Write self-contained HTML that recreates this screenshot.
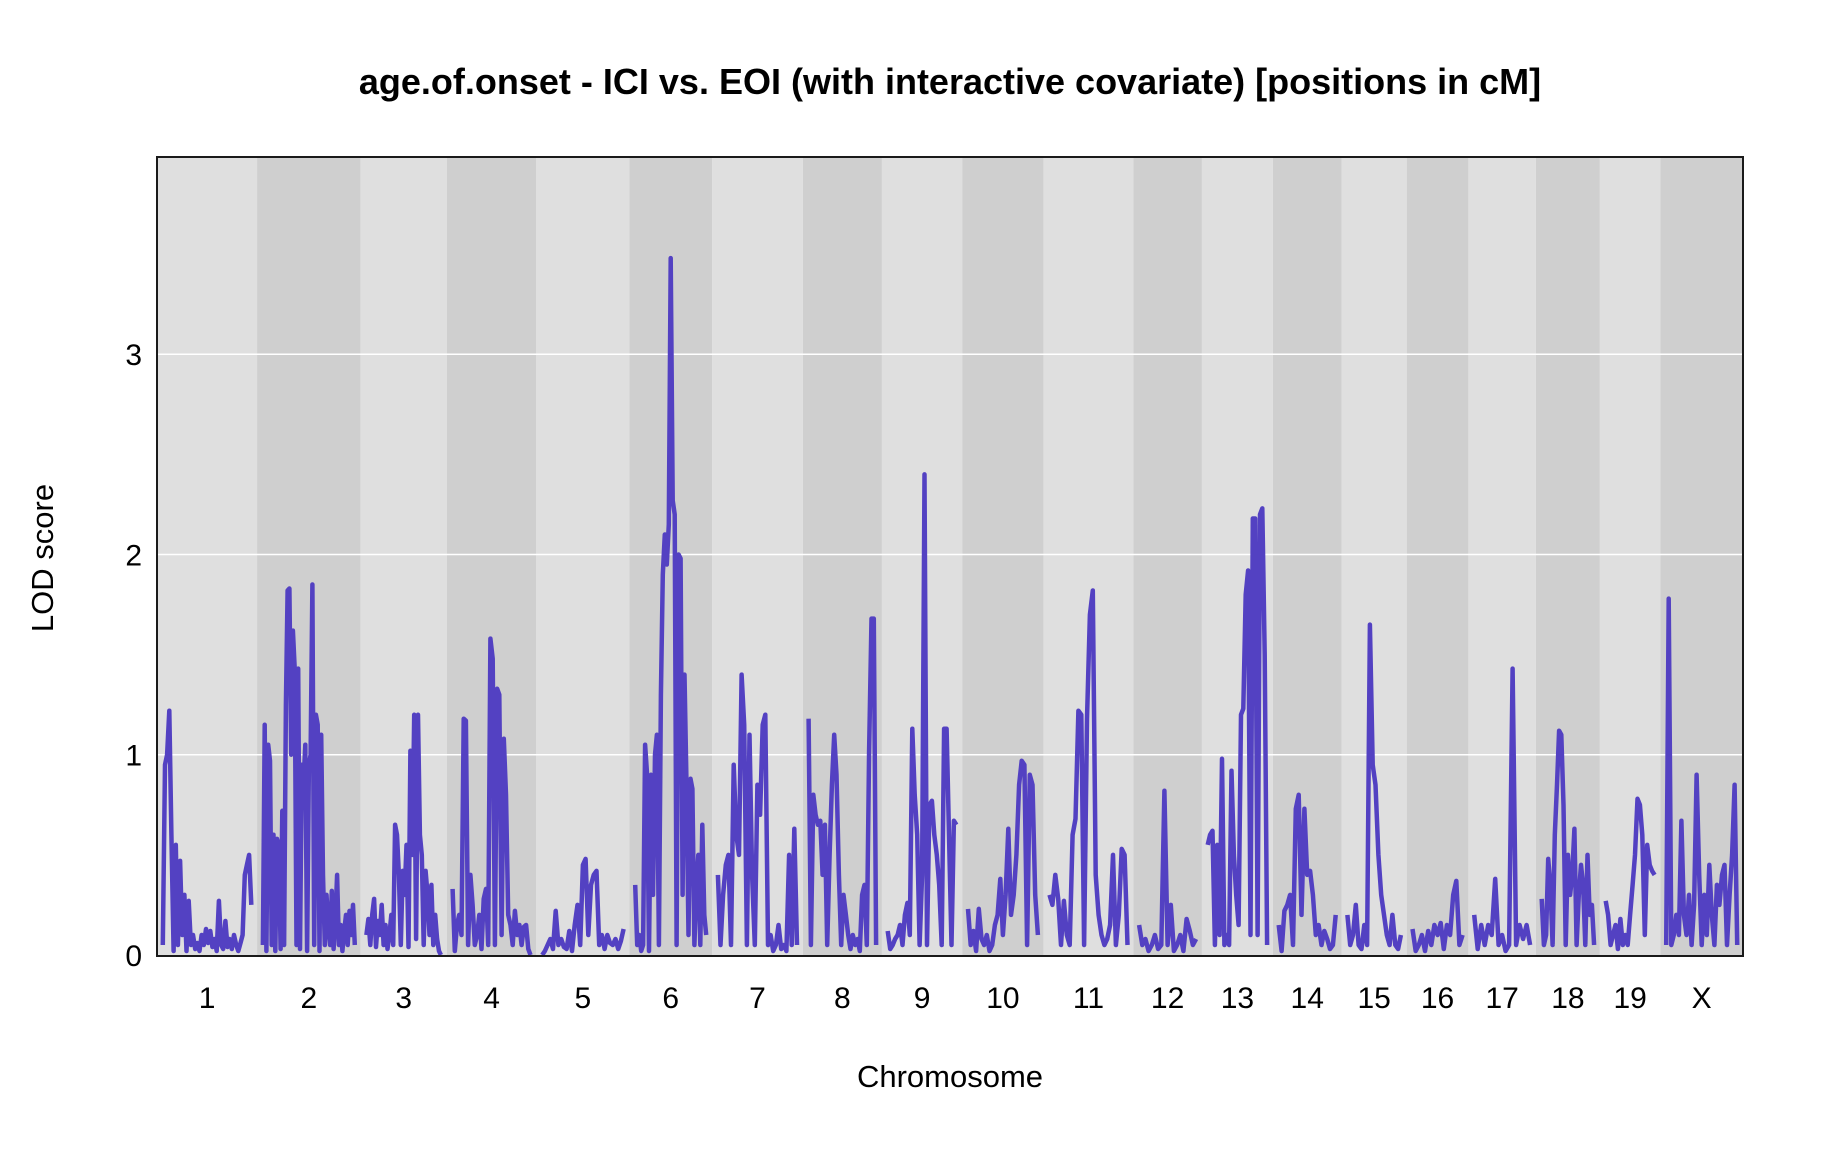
<!DOCTYPE html>
<html><head><meta charset="utf-8"><style>
html,body{margin:0;padding:0;background:#fff}
svg{display:block;font-family:"Liberation Sans",Arial,sans-serif}
</style></head><body>
<svg id="chart" width="1824" height="1152" viewBox="0 0 1824 1152" xmlns="http://www.w3.org/2000/svg">
<text x="950" y="94" text-anchor="middle" font-size="36" font-weight="bold">age.of.onset - ICI vs. EOI (with interactive covariate) [positions in cM]</text>
<g id="bands"></g>
<g id="grid"></g>
<g id="lines"></g>
<rect x="157" y="157" width="1586" height="799" fill="none" stroke="#1a1a1a" stroke-width="2"/>
<g id="yticks"></g>
<g id="xticks"></g>
<text transform="translate(53,558) rotate(-90)" text-anchor="middle" font-size="31">LOD score</text>
<text x="950" y="1087" text-anchor="middle" font-size="31">Chromosome</text>
</svg>
<script>
const chrNames = ["1","2","3","4","5","6","7","8","9","10","11","12","13","14","15","16","17","18","19","X"];
const chrLengths = [76,79,64,67,70,61,68,58,59,60,67,49,51,49,46,43,48,45,42,61];
const gapCM = 10;
const yTicks = [0,1,2,3];
const lod1 = [0.05,0.95,1.0,1.22,0.6,0.02,0.55,0.05,0.47,0.1,0.3,0.02,0.27,0.05,0.1,0.03,0.06,0.02,0.1,0.05,0.13,0.06,0.12,0.04,0.08,0.02,0.27,0.05,0.03,0.17,0.04,0.08,0.03,0.1,0.05,0.02,0.06,0.1,0.4,0.45,0.5,0.25];
const lod2 = [0.05,1.15,0.02,1.05,0.97,0.05,0.6,0.02,0.58,0.55,0.03,0.72,0.05,1.25,1.82,1.83,1.0,1.62,1.43,0.05,1.43,0.03,0.95,0.85,1.05,0.02,0.95,1.0,1.85,0.05,1.2,1.15,0.02,1.1,0.4,0.05,0.3,0.15,0.05,0.32,0.03,0.18,0.4,0.05,0.15,0.02,0.12,0.2,0.05,0.22,0.1,0.25,0.05];
const lod3 = [0.1,0.18,0.05,0.2,0.28,0.04,0.17,0.1,0.25,0.05,0.15,0.03,0.1,0.2,0.05,0.65,0.6,0.4,0.05,0.42,0.3,0.55,0.04,1.02,0.5,1.2,0.08,1.2,0.6,0.5,0.05,0.42,0.3,0.1,0.35,0.05,0.2,0.08,0.02,0.0];
const lod4 = [0.33,0.02,0.15,0.2,0.1,1.18,1.17,0.05,0.4,0.25,0.05,0.1,0.2,0.03,0.28,0.33,0.05,1.58,1.48,0.05,1.33,1.3,0.1,1.08,0.8,0.2,0.15,0.05,0.22,0.1,0.15,0.05,0.14,0.15,0.03,0.0];
const lod5 = [0.0,0.02,0.05,0.08,0.03,0.22,0.05,0.08,0.04,0.03,0.12,0.02,0.15,0.25,0.05,0.45,0.48,0.1,0.35,0.4,0.42,0.05,0.1,0.03,0.1,0.06,0.05,0.08,0.03,0.07,0.13];
const lod6 = [0.35,0.05,0.1,0.02,0.05,1.05,0.9,0.02,0.9,0.3,1.0,1.1,0.05,1.3,1.9,2.1,1.95,2.15,3.48,2.27,2.2,0.05,2.0,1.98,0.3,1.4,0.85,0.1,0.88,0.83,0.05,0.35,0.5,0.05,0.65,0.2,0.1];
const lod7 = [0.4,0.05,0.3,0.45,0.5,0.05,0.95,0.6,0.5,1.4,1.15,0.05,1.1,0.4,0.05,0.85,0.7,1.15,1.2,0.05,0.1,0.02,0.05,0.15,0.03,0.05,0.02,0.5,0.05,0.63,0.05];
const lod8 = [1.18,0.05,0.8,0.7,0.65,0.67,0.4,0.65,0.05,0.5,0.85,1.1,0.9,0.4,0.05,0.3,0.2,0.1,0.03,0.1,0.05,0.08,0.02,0.3,0.35,0.05,1.02,1.68,1.68,0.05];
const lod9 = [0.12,0.03,0.05,0.08,0.1,0.15,0.05,0.2,0.26,0.1,1.13,0.8,0.6,0.05,0.4,2.4,0.05,0.75,0.77,0.6,0.5,0.35,0.05,1.13,1.13,0.6,0.05,0.67,0.65];
const lod10 = [0.23,0.05,0.12,0.02,0.23,0.08,0.05,0.1,0.02,0.05,0.15,0.2,0.38,0.1,0.3,0.63,0.2,0.3,0.5,0.85,0.97,0.95,0.05,0.9,0.85,0.3,0.1];
const lod11 = [0.3,0.25,0.4,0.28,0.05,0.27,0.1,0.05,0.6,0.68,1.22,1.2,0.05,1.18,1.7,1.82,0.4,0.2,0.1,0.05,0.08,0.15,0.5,0.05,0.2,0.53,0.5,0.05];
const lod12 = [0.15,0.05,0.08,0.02,0.05,0.1,0.03,0.05,0.82,0.05,0.25,0.02,0.05,0.1,0.02,0.18,0.12,0.05,0.08];
const lod13 = [0.55,0.6,0.62,0.05,0.55,0.1,0.98,0.05,0.1,0.05,0.92,0.5,0.3,0.15,1.2,1.23,1.8,1.92,0.1,2.18,2.18,0.1,2.2,2.23,1.5,0.05];
const lod14 = [0.15,0.02,0.22,0.25,0.3,0.05,0.73,0.8,0.2,0.73,0.4,0.42,0.3,0.1,0.15,0.05,0.12,0.08,0.03,0.05,0.2];
const lod15 = [0.2,0.05,0.1,0.25,0.05,0.03,0.15,0.05,1.65,0.95,0.85,0.5,0.3,0.2,0.1,0.05,0.2,0.05,0.03,0.1];
const lod16 = [0.13,0.02,0.05,0.1,0.02,0.12,0.05,0.15,0.1,0.16,0.03,0.15,0.1,0.3,0.37,0.05,0.1];
const lod17 = [0.2,0.03,0.15,0.05,0.15,0.1,0.38,0.05,0.1,0.02,0.05,1.43,0.05,0.15,0.08,0.15,0.05];
const lod18 = [0.28,0.05,0.1,0.48,0.35,0.05,0.6,0.85,1.12,1.1,0.75,0.05,0.5,0.3,0.4,0.63,0.05,0.3,0.45,0.35,0.05,0.5,0.2,0.25,0.05];
const lod19 = [0.27,0.2,0.05,0.1,0.15,0.03,0.18,0.05,0.1,0.05,0.2,0.35,0.5,0.78,0.75,0.6,0.1,0.55,0.45,0.42,0.4];
const lodX = [0.05,1.78,0.05,0.1,0.2,0.1,0.67,0.2,0.1,0.3,0.05,0.25,0.9,0.4,0.05,0.3,0.1,0.45,0.2,0.05,0.35,0.25,0.4,0.45,0.05,0.3,0.5,0.85,0.05];
const lodSeries = [lod1,lod2,lod3,lod4,lod5,lod6,lod7,lod8,lod9,lod10,lod11,lod12,lod13,lod14,lod15,lod16,lod17,lod18,lod19,lodX];

const NS="http://www.w3.org/2000/svg";
const L=157,R=1743,T=157,B=956;
const yMax=3.985;
const total=chrLengths.reduce((a,b)=>a+b+gapCM,0);
function xs(cm){return L+(cm/total)*(R-L);}
function ys(v){return B-1-(v/yMax)*(B-1-T);}
const bands=document.getElementById('bands'),grid=document.getElementById('grid'),lines=document.getElementById('lines'),xt=document.getElementById('xticks'),yt=document.getElementById('yticks');
let off=0;
chrNames.forEach((name,i)=>{
  const len=chrLengths[i];
  const x0=xs(off),x1=xs(off+len+gapCM);
  const r=document.createElementNS(NS,'rect');
  
  
  r.setAttribute('x',x0);r.setAttribute('y',T);r.setAttribute('width',x1-x0);r.setAttribute('height',B-T);
  r.setAttribute('fill',i%2===0?'#dfdfdf':'#cfcfcf');
  bands.appendChild(r);
  const vals=lodSeries[i];
  const start=off+gapCM/2;
  const pts=vals.map((v,j)=>{const cm=start+len*j/(vals.length-1);return xs(cm).toFixed(1)+','+ys(v).toFixed(1);});
  const p=document.createElementNS(NS,'polyline');
  
  
  p.setAttribute('points',pts.join(' '));
  p.setAttribute('fill','none');p.setAttribute('stroke','#5341c2');p.setAttribute('stroke-width','4.5');p.setAttribute('stroke-linejoin','round');
  lines.appendChild(p);
  const t=document.createElementNS(NS,'text');
  
  
  t.setAttribute('x',(x0+x1)/2);t.setAttribute('y',1008);t.setAttribute('text-anchor','middle');t.setAttribute('font-size','30');
  t.textContent=name;
  xt.appendChild(t);
  off+=len+gapCM;
});
yTicks.forEach(v=>{
  if(v>0){
    const g=document.createElementNS(NS,'line');
    
    
    g.setAttribute('x1',L);g.setAttribute('x2',R);g.setAttribute('y1',ys(v));g.setAttribute('y2',ys(v));
    g.setAttribute('stroke','#ffffff');g.setAttribute('stroke-width','1.5');
    grid.appendChild(g);
  }
  const t=document.createElementNS(NS,'text');
  
  
  t.setAttribute('x',142);t.setAttribute('y',ys(v)+11);t.setAttribute('text-anchor','end');t.setAttribute('font-size','30');
  t.textContent=String(v);
  yt.appendChild(t);
});
</script>
</body></html>
